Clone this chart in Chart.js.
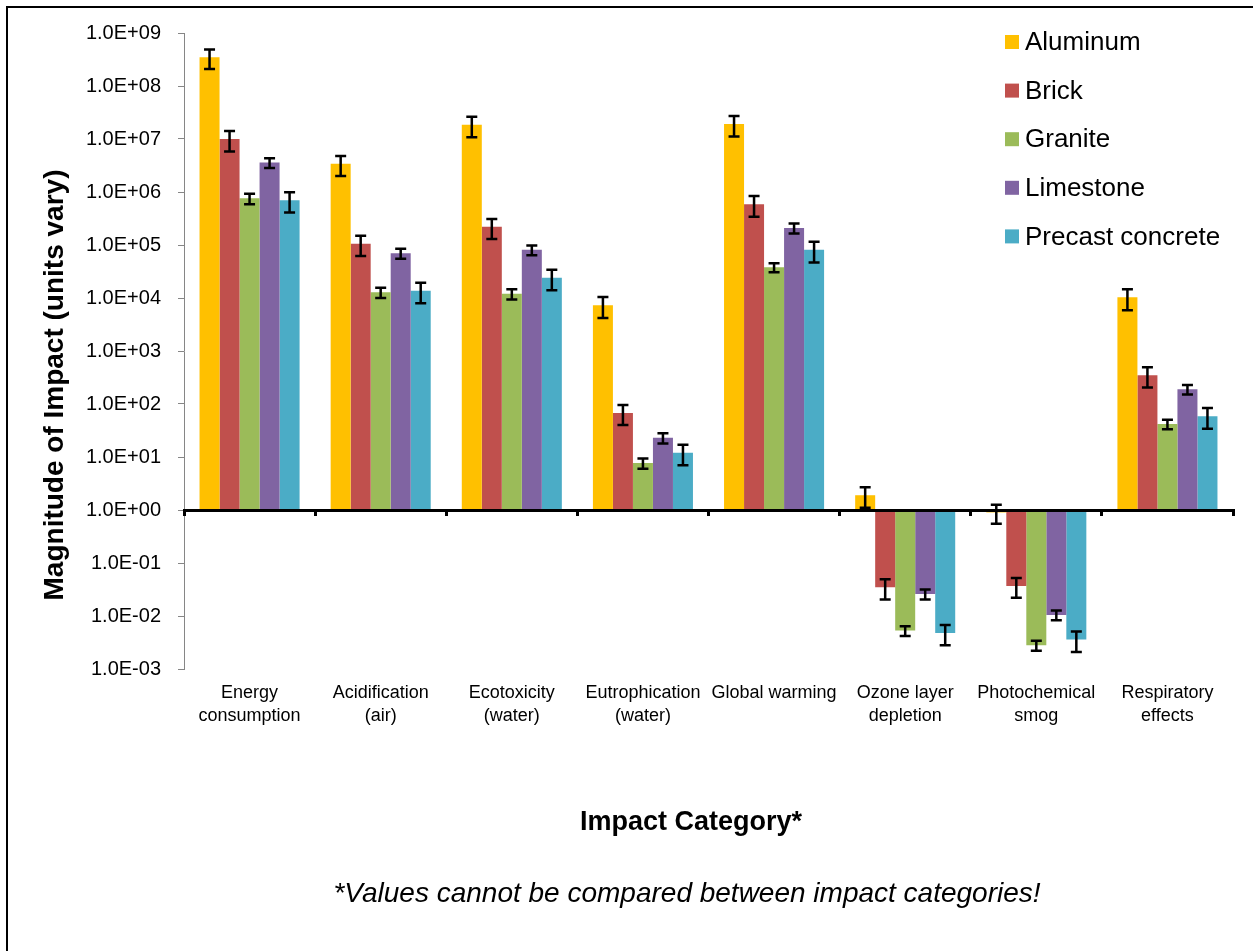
<!DOCTYPE html>
<html>
<head>
<meta charset="utf-8">
<script src="https://cdn.jsdelivr.net/npm/chart.js@4/dist/chart.umd.min.js"></script>
<style>
html,body{margin:0;padding:0;background:#fff;overflow:hidden}
#wrap{width:1253px;height:951px;position:relative}
</style>
</head>
<body>
<div id="wrap"><canvas id="c" width="1253" height="951"></canvas></div>
<script>
// ---- data ----
const categories = [["Energy","consumption"],["Acidification","(air)"],["Ecotoxicity","(water)"],["Eutrophication","(water)"],"Global warming",["Ozone layer","depletion"],["Photochemical","smog"],["Respiratory","effects"]];
const seriesNames = ["Aluminum","Brick","Granite","Limestone","Precast concrete"];
const aluminum     = [3.5e8, 3.4e6, 1.86e7, 7.3e3, 1.92e7, 1.9, 0.9, 1.03e4];
const aluminumErr  = [1.4e8, 1.4e6, 7.8e6, 3.1e3, 8.0e6, 0.8, 0.35, 4.4e3];
const brick        = [1.0e7, 1.06e5, 2.2e5, 68, 5.9e5, 0.035, 0.037, 350];
const brickErr     = [4.2e6, 4.4e4, 9.0e4, 28, 2.5e5, 0.0145, 0.015, 145];
const granite      = [7.6e5, 1.28e4, 1.2e4, 7.7, 3.8e4, 0.0053, 0.0028, 42];
const graniteErr   = [1.7e5, 2.8e3, 2.6e3, 1.7, 7.5e3, 0.0011, 0.0006, 8.7];
const limestone    = [3.6e6, 7.0e4, 8.1e4, 23, 2.1e5, 0.026, 0.0105, 190];
const limestoneErr = [7.5e5, 1.5e4, 1.7e4, 5, 4.5e4, 0.0055, 0.0022, 39];
const precast      = [7.0e5, 1.37e4, 2.4e4, 12, 8.1e4, 0.0048, 0.0036, 59];
const precastErr   = [2.9e5, 5.7e3, 1.0e4, 5, 3.4e4, 0.002, 0.0015, 25];
const yTickValues  = [1e-3, 1e-2, 1e-1, 1e0, 1e1, 1e2, 1e3, 1e4, 1e5, 1e6, 1e7, 1e8, 1e9];
const yAxisTitle = "Magnitude of Impact (units vary)";
const xAxisTitle = "Impact Category*";
const footnote = "*Values cannot be compared between impact categories!";

const seriesValues = [aluminum, brick, granite, limestone, precast];
const seriesErrors = [aluminumErr, brickErr, graniteErr, limestoneErr, precastErr];
const colors = ["#FFC000", "#C0504D", "#9BBB59", "#8064A2", "#4BACC6"];
const FONT = "'Liberation Sans', Arial, sans-serif";

function fmtExp(v) {
  const e = Math.round(Math.log10(v));
  const sign = e < 0 ? "-" : "+";
  const a = Math.abs(e);
  return "1.0E" + sign + (a < 10 ? "0" + a : a);
}

const decor = {
  id: 'decor',
  beforeDraw(chart) {
    const ctx = chart.ctx;
    ctx.save();
    ctx.fillStyle = '#fff';
    ctx.fillRect(0, 0, chart.width, chart.height);
    ctx.restore();
  },
  afterDatasetsDraw(chart) {
    const ctx = chart.ctx;
    const y = chart.scales.y;
    ctx.save();
    ctx.strokeStyle = '#000';
    ctx.lineWidth = 2.5;
    chart.data.datasets.forEach((ds, di) => {
      const meta = chart.getDatasetMeta(di);
      const errs = seriesErrors[di];
      ds.data.forEach((v, i) => {
        const bar = meta.data[i];
        const e = errs[i];
        const top = y.getPixelForValue(v + e);
        const bot = y.getPixelForValue(Math.max(v - e, 1e-6));
        const x = bar.x, hw = 5.5;
        ctx.beginPath();
        ctx.moveTo(x, top); ctx.lineTo(x, bot);
        ctx.moveTo(x - hw, top); ctx.lineTo(x + hw, top);
        ctx.moveTo(x - hw, bot); ctx.lineTo(x + hw, bot);
        ctx.stroke();
      });
    });
    ctx.restore();
  },
  afterDraw(chart) {
    const ctx = chart.ctx;
    ctx.save();
    // outer border
    ctx.strokeStyle = '#000';
    ctx.lineWidth = 2;
    ctx.strokeRect(7, 7, chart.width + 10, chart.height + 10);
    ctx.fillStyle = '#000';
    // y axis title
    ctx.save();
    ctx.translate(55, 385);
    ctx.rotate(-Math.PI / 2);
    ctx.font = "bold 28px " + FONT;
    ctx.textAlign = 'center';
    ctx.textBaseline = 'middle';
    ctx.fillText(yAxisTitle, 0, 0);
    ctx.restore();
    // x axis title
    ctx.font = "bold 27px " + FONT;
    ctx.textAlign = 'center';
    ctx.textBaseline = 'middle';
    ctx.fillText(xAxisTitle, 691, 823);
    // footnote
    ctx.font = "italic 28px " + FONT;
    ctx.fillText(footnote, 687, 894);
    // legend
    ctx.font = "26px " + FONT;
    ctx.textAlign = 'left';
    chart.data.datasets.forEach((ds, i) => {
      const cy = 42 + i * 48.6;
      ctx.fillStyle = ds.backgroundColor;
      ctx.fillRect(1005, cy - 7, 14, 14);
      ctx.fillStyle = '#000';
      ctx.fillText(ds.label, 1025, cy + 1);
    });
    ctx.restore();
  }
};

const datasets = seriesNames.map((name, i) => ({
  label: name,
  data: seriesValues[i],
  backgroundColor: colors[i],
  borderWidth: 0,
  base: 1,
  categoryPercentage: 0.763,
  barPercentage: 1.0,
  xAxisID: 'x',
  yAxisID: 'y'
}));

new Chart(document.getElementById('c'), {
  type: 'bar',
  data: { labels: categories, datasets },
  plugins: [decor],
  options: {
    responsive: false,
    animation: false,
    devicePixelRatio: 1,
    layout: { padding: { left: 0, top: 33, right: 20, bottom: 182 } },
    plugins: { legend: { display: false }, tooltip: { enabled: false } },
    scales: {
      x: {
        type: 'category',
        position: 'bottom',
        offset: true,
        grid: { display: false, drawTicks: false },
        border: { display: false },
        ticks: { color: '#000', font: { family: FONT, size: 18, lineHeight: 1.27 }, padding: 13, maxRotation: 0, autoSkip: false },
        afterFit(scale) { scale.height = 100; }
      },
      xAxis: {
        type: 'category',
        axis: 'x',
        position: { y: 1 },
        offset: true,
        grid: { display: true, offset: true, drawOnChartArea: false, drawTicks: true, tickLength: 4, color: '#000', lineWidth: 3, z: 1 },
        border: { display: true, color: '#000', width: 3, z: 1 },
        ticks: { display: false }
      },
      y: {
        type: 'logarithmic',
        position: 'left',
        min: 1e-3,
        max: 1e9,
        grid: { display: true, drawOnChartArea: false, drawTicks: true, tickLength: 6, color: '#868686', lineWidth: 1 },
        border: { display: true, color: '#868686', width: 1 },
        ticks: { color: '#000', font: { family: FONT, size: 20 }, padding: 17, callback: (v) => fmtExp(v) },
        afterBuildTicks(scale) { scale.ticks = yTickValues.map(v => ({ value: v })); },
        afterFit(scale) { scale.width = 184; }
      }
    }
  }
});
</script>
</body>
</html>
